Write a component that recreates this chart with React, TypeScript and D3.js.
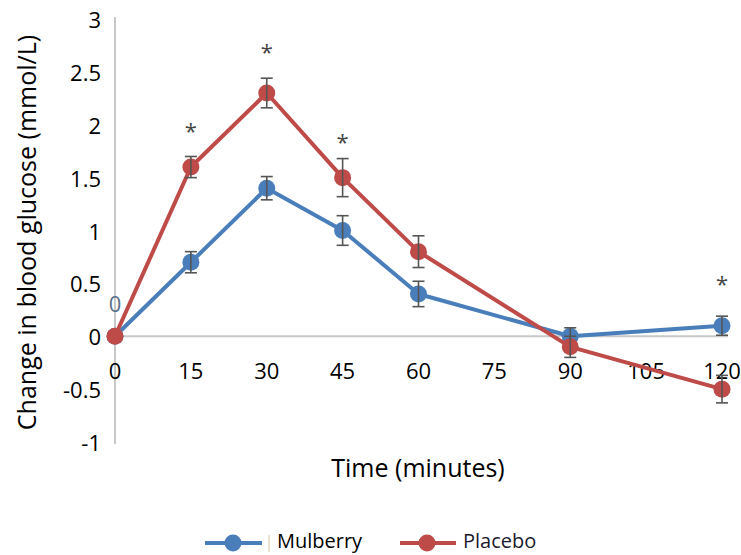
import React from "react";
import * as d3 from "d3";

const times = [0, 15, 30, 45, 60, 90, 120];
const mulberry = [0, 0.7, 1.4, 1.0, 0.4, 0.0, 0.1];
const mulberryErr = [0, 0.1, 0.11, 0.14, 0.12, 0.08, 0.09];
const placebo = [0, 1.6, 2.3, 1.5, 0.8, -0.1, -0.5];
const placeboErr = [0, 0.1, 0.14, 0.18, 0.15, 0.1, 0.13];
const xTicks = [0, 15, 30, 45, 60, 75, 90, 105, 120];
const yTicks = [-1, -0.5, 0, 0.5, 1, 1.5, 2, 2.5, 3];
const starTimes = [15, 30, 45, 120];
const starValues = [1.95, 2.7, 1.85, 0.5];

const BLUE = "#4a7ebb";
const RED = "#be4b48";
const FONT = "'Open Sans', sans-serif";

export default function App() {
  const W = 741, H = 555;
  const x = d3.scaleLinear().domain([0, 120]).range([115, 722]);
  const y = d3.scaleLinear().domain([-1, 3]).range([442, 19]);
  const line = d3.line<number>().x((_, i) => x(times[i])).y((d) => y(d));

  const series = [
    { name: "Mulberry", vals: mulberry, err: mulberryErr, color: BLUE },
    { name: "Placebo", vals: placebo, err: placeboErr, color: RED },
  ];

  return (
    <svg width={W} height={H} style={{ position: "absolute", left: 0, top: 0, background: "#fff" }}>
      <line x1={x(0)} x2={x(0)} y1={y(3) - 2} y2={y(-1) + 2} stroke="#c8c8c8" strokeWidth={2} />
      <line x1={x(0)} x2={x(120) + 6} y1={y(0)} y2={y(0)} stroke="#c8c8c8" strokeWidth={2} />
      {yTicks.map((t) => (
        <text key={"y" + t} x={101} y={y(t)} textAnchor="end" dominantBaseline="central"
          fontFamily={FONT} fontSize={22} fill="#000">{t}</text>
      ))}
      {xTicks.map((t) => (
        <text key={"x" + t} x={x(t)} y={370} textAnchor="middle" dominantBaseline="central"
          fontFamily={FONT} fontSize={22} fill="#000">{t}</text>
      ))}
      <text x={x(0)} y={303} textAnchor="middle" dominantBaseline="central" fontFamily={FONT}
        fontSize={22} fill="#5b6f88">0</text>
      <text transform={`translate(26,${y(1) + 2}) rotate(-90)`} textAnchor="middle" dominantBaseline="central"
        fontFamily={FONT} fontSize={25} fill="#000">Change in blood glucose (mmol/L)</text>
      <text x={418} y={467} textAnchor="middle" dominantBaseline="central" fontFamily={FONT}
        fontSize={25} fill="#000">Time (minutes)</text>

      {series.map((s) => (
        <g key={s.name}>
          <path d={line(s.vals) || ""} fill="none" stroke={s.color} strokeWidth={4} strokeLinejoin="round" />
          {s.vals.map((v, i) => (
            <circle key={i} cx={x(times[i])} cy={y(v)} r={8.5} fill={s.color} />
          ))}
          {s.vals.map((v, i) =>
            s.err[i] > 0 ? (
              <g key={"e" + i} stroke="#555" strokeWidth={1.6}>
                <line x1={x(times[i])} x2={x(times[i])} y1={y(v + s.err[i])} y2={y(v - s.err[i])} />
                <line x1={x(times[i]) - 6} x2={x(times[i]) + 6} y1={y(v + s.err[i])} y2={y(v + s.err[i])} />
                <line x1={x(times[i]) - 6} x2={x(times[i]) + 6} y1={y(v - s.err[i])} y2={y(v - s.err[i])} />
              </g>
            ) : null
          )}
        </g>
      ))}

      {starTimes.map((t, i) => (
        <text key={"s" + t} x={x(t)} y={y(starValues[i])} textAnchor="middle" dominantBaseline="central"
          fontFamily={FONT} fontSize={22} fill="#444">*</text>
      ))}

      <line x1={205} x2={262} y1={543} y2={543} stroke={BLUE} strokeWidth={4} />
      <circle cx={233} cy={543} r={8.5} fill={BLUE} />
      <line x1={269} x2={269} y1={535} y2={552} stroke="#d9c7a0" strokeWidth={1} />
      <text x={277} y={540} dominantBaseline="central" fontFamily={FONT} fontSize={20} fill="#000">Mulberry</text>
      <line x1={400} x2={456} y1={543} y2={543} stroke={RED} strokeWidth={4} />
      <circle cx={427} cy={543} r={8.5} fill={RED} />
      <text x={463} y={540} dominantBaseline="central" fontFamily={FONT} fontSize={20} fill="#1a1a2e">Placebo</text>
    </svg>
  );
}
